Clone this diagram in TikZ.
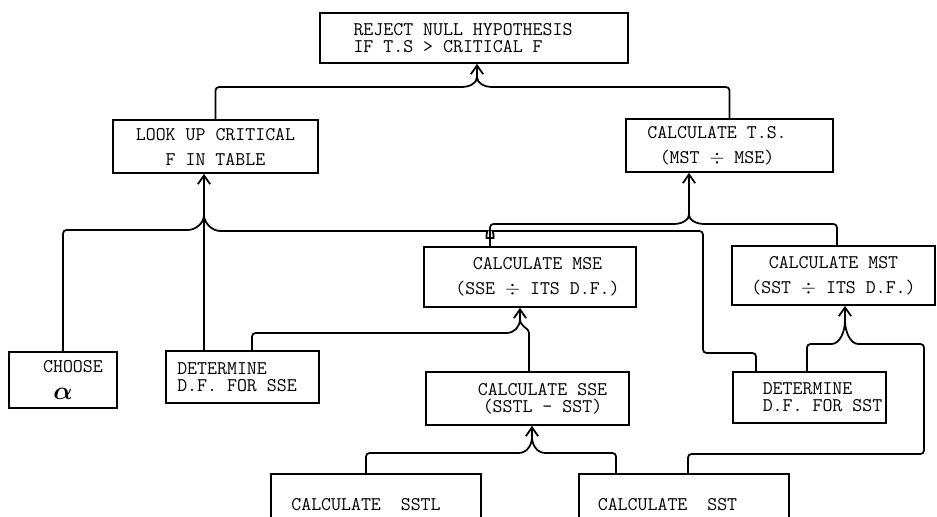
\documentclass[tikz,border=0pt]{standalone}
\usepackage{amsmath, amssymb}
\usetikzlibrary{arrows.meta}

\tikzset{
    box/.style={draw, line width=1pt, inner sep=0pt, align=center,
        font=\fontsize{11}{14.2}\selectfont\ttfamily},
    tight/.style={font=\fontsize{11}{9.5}\selectfont\ttfamily},
    link/.style={line width=1pt, rounded corners=2pt},
    arr/.style={line width=1pt, -{Straight Barb[length=5pt,width=7pt]}}
}

\begin{document}
\begin{tikzpicture}[x=0.02cm, y=-0.02cm]
    % page, measured in px from the top left corner
    \fill[white] (0,0) rectangle (937,517);
    \useasboundingbox (0,0) rectangle (937,517);

    % Level 1: decision
    \node[box, tight, minimum width=6.16cm, minimum height=1cm, align=left] (reject) at (474,38)
        {REJECT NULL HYPOTHESIS\hspace*{0.44cm}\\IF T.S > CRITICAL F};

    % Level 2: critical value and test statistic
    \node[box, minimum width=4.1cm, minimum height=1.06cm] (lookup) at (215.5,146.5)
        {LOOK UP CRITICAL\\F IN TABLE};
    \node[box, minimum width=4.14cm, minimum height=1.06cm] (ts) at (729.5,145.5)
        {CALCULATE T.S.\hspace*{0.5cm}\\(MST $\div$ MSE)\hspace*{0.5cm}};

    % Level 3: mean squares
    \node[box, minimum width=4.24cm, minimum height=1.2cm] (mse) at (530,277)
        {\hspace*{0.3cm}CALCULATE MSE\\\hspace*{0.3cm}(SSE $\div$ ITS D.F.)};
    \node[box, minimum width=4.06cm, minimum height=1.18cm] (mst) at (833.5,275.5)
        {CALCULATE MST\\(SST $\div$ ITS D.F.)};

    % Level 4: inputs
    \node[box, font=\fontsize{11}{11}\selectfont\ttfamily, minimum width=2.16cm, minimum height=1.12cm] (choose) at (63,380)
        {\hspace*{0.4cm}CHOOSE\\[4pt]{\Large$\boldsymbol{\alpha}$}};
    \node[box, tight, minimum width=3.06cm, minimum height=1.04cm, align=left] (detsse) at (242.5,377)
        {DETERMINE\\D.F. FOR SSE\hspace*{0.22cm}};
    \node[box, tight, minimum width=4.06cm, minimum height=1.06cm] (sse) at (527.5,398.5)
        {\hspace*{0.6cm}CALCULATE SSE\\\hspace*{0.6cm}(SSTL - SST)};
    \node[box, tight, minimum width=3.06cm, minimum height=1.02cm, align=left] (detsst) at (809.5,397.5)
        {\hspace*{0.52cm}DETERMINE\\\hspace*{0.52cm}D.F. FOR SST};

    % Level 5: sums of squares (cut off at the bottom)
    \node[box, minimum width=4.2cm, minimum height=1.24cm] (sstl) at (376,505)
        {CALCULATE\ \ SSTL\hspace*{0.4cm}};
    \node[box, minimum width=4.2cm, minimum height=1.24cm] (sst) at (684,505)
        {CALCULATE\ \ SST\hspace*{0.66cm}};

    % Merge points
    \coordinate (jreject) at (477,77);
    \coordinate (jlook) at (204,215);
    \coordinate (jts) at (689,215);
    \coordinate (jmse) at (520,319);
    \coordinate (jmst) at (845,321);
    \coordinate (jsse) at (532,437);

    % Into the decision
    \draw[link] (lookup.north) |- (458,87) .. controls +(12,0) and +(0,6) .. (jreject);
    \draw[link] (ts.north) |- (496,87) .. controls +(-12,0) and +(0,6) .. (jreject);
    \draw[arr] (jreject) -- (jreject |- reject.south);

    % Into the critical F
    \draw[link] (choose.north) |- (184,230) .. controls +(12,0) and +(0,8) .. (jlook);
    \draw[link] ([xshift=-0.77cm]detsse.north) -- (jlook);
    \draw[link] ([xshift=-1.07cm]detsst.north) |- (703,353) -- (703,231) -- (496,231)
        .. controls (493,231) and (494,238) .. (490,238)
        .. controls (486,238) and (487,231) .. (484,231)
        -- (224,231) .. controls +(-12,0) and +(0,8) .. (jlook);
    \draw[arr] (jlook) -- (jlook |- lookup.south);

    % Into the test statistic
    \draw[link] ([xshift=-0.8cm]mse.north) |- (670,224) .. controls +(12,0) and +(0,5) .. (jts);
    \draw[link] ([xshift=0.07cm]mst.north) |- (708,224) .. controls +(-12,0) and +(0,5) .. (jts);
    \draw[arr] (jts) -- (jts |- ts.south);

    % Into MSE
    \draw[link] ([xshift=0.19cm]detsse.north) |- (503,333) .. controls +(11,0) and +(0,8) .. (jmse);
    \draw[link] ([xshift=0.03cm]sse.north) -- (529,336) .. controls +(0,-8) and +(0,8) .. (jmse);
    \draw[arr] (jmse) -- (jmse |- mse.south);

    % Into MST
    \draw[link] ([xshift=-0.05cm]detsst.north) |- (828,344) .. controls +(12,0) and +(0,10) .. (jmst);
    \draw[link] ([xshift=0.08cm]sst.north) |- (924,454) |- (862,344) .. controls +(-12,0) and +(0,10) .. (jmst);
    \draw[arr] (jmst) -- (jmst |- mst.south);

    % Into SSE
    \draw[link] ([xshift=-0.2cm]sstl.north) |- (515,453) .. controls +(12,0) and +(0,8) .. (jsse);
    \draw[link] ([xshift=-1.36cm]sst.north) |- (549,453) .. controls +(-12,0) and +(0,8) .. (jsse);
    \draw[arr] (jsse) -- (jsse |- sse.south);
\end{tikzpicture}
\end{document}
